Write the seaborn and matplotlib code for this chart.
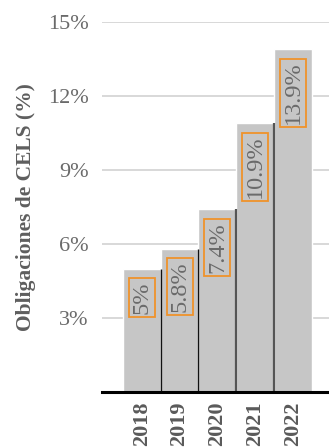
import matplotlib
matplotlib.use("Agg")
import matplotlib.pyplot as plt
import seaborn as sns
import pandas as pd
from matplotlib.patches import Rectangle
from matplotlib.ticker import FuncFormatter

years = ["2018", "2019", "2020", "2021", "2022"]
values = [5.0, 5.8, 7.4, 10.9, 13.9]
labels = ["5%", "5.8%", "7.4%", "10.9%", "13.9%"]
yticks = [3, 6, 9, 12, 15]

sns.set_theme(style="white")
plt.rcParams["font.family"] = ["Liberation Serif", "DejaVu Serif"]

df = pd.DataFrame({"year": years, "value": values})

fig = plt.figure(figsize=(3.29, 4.48), dpi=100)
ax = fig.add_axes([102 / 329, 56 / 448, 227 / 329, 370 / 448])

sns.barplot(data=df, x="year", y="value", color="#c6c6c6", saturation=1,
            width=1.0, ax=ax, zorder=2)

# dark edge on the right side of each bar except the last
edge_colors = ["#111111", "#111111", "#555555", "#555555"]
edge_widths = [1.0, 1.0, 1.6, 1.6]
for i, v in enumerate(values[:-1]):
    ax.vlines(i + 0.5, 0, v, colors=edge_colors[i], linewidth=edge_widths[i], zorder=3)

ax.set_ylim(0, 15)
ax.set_xlim(-1.05, 4.95)

value_texts = []
for i, (v, lab) in enumerate(zip(values, labels)):
    t = ax.annotate(lab, xy=(i, v), xytext=(0, -9), textcoords="offset points",
                    rotation=90, ha="center", va="top", fontsize=17.5,
                    color="#6a6a6a", zorder=4)
    value_texts.append((i, t))

ax.set_yticks(yticks)
ax.yaxis.set_major_formatter(FuncFormatter(lambda v, p: f"{int(v)}%"))
ax.grid(axis="y", color="#d2d2d2", linewidth=1.2, zorder=0)
ax.set_axisbelow(True)

for s in ["top", "right", "left"]:
    ax.spines[s].set_visible(False)
ax.spines["bottom"].set_color("#000000")
ax.spines["bottom"].set_linewidth(2.2)
ax.spines["bottom"].set_zorder(5)

ax.tick_params(axis="y", length=0, pad=9.5, labelsize=16, labelcolor="#6a6a6a")
ax.tick_params(axis="x", length=0, pad=7, labelsize=16, labelcolor="#5a5a5a")
for t in ax.get_xticklabels():
    t.set_rotation(90)
    t.set_fontweight("bold")
    t.set_va("top")

ax.set_xlabel("")
ax.set_ylabel("Obligaciones de CELS (%)", fontsize=15.5, fontweight="bold", color="#5e5e5e")
ax.yaxis.set_label_coords(-0.29, 0.5)

# orange frames drawn snugly around each value label
fig.canvas.draw()
renderer = fig.canvas.get_renderer()
for i, t in value_texts:
    bb = t.get_window_extent(renderer)
    cx = ax.transData.transform((i, 0))[0]
    w = 26
    x0 = cx - w / 2
    y0 = bb.y0 - 3
    h = bb.height + 6
    (dx0, dy0) = ax.transData.inverted().transform((x0, y0))
    (dx1, dy1) = ax.transData.inverted().transform((x0 + w, y0 + h))
    ax.add_patch(Rectangle((dx0, dy0), dx1 - dx0, dy1 - dy0, facecolor="none",
                           edgecolor="#f0922a", linewidth=1.3, zorder=4))

fig.savefig("out.png", dpi=100)
